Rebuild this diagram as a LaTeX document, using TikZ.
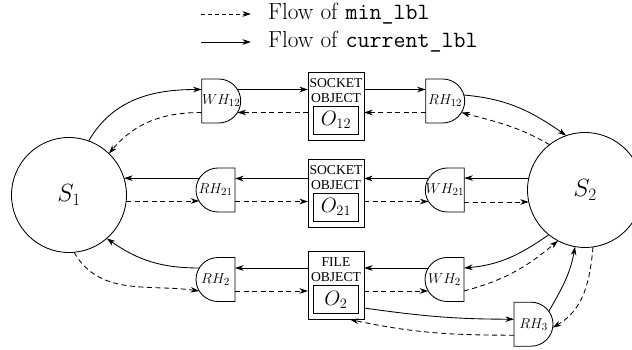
\documentclass[tikz,border=0pt]{standalone}
\usepackage{fontspec}
\newfontfamily\boxfont{Liberation Serif}
\usetikzlibrary{arrows.meta}
\begin{document}
\begin{tikzpicture}[x=1pt,y=1pt,
  every node/.style={inner sep=0pt,outer sep=0pt},
  conn/.style={line width=0.85pt,-{Stealth[length=8.5pt,width=5.5pt,inset=2.5pt]}},
  flowdash/.style={conn,dash pattern=on 5pt off 3.5pt},
  legdash/.style={conn,dash pattern=on 4pt off 3pt},
  site/.style={circle,draw,line width=0.85pt,minimum size=115pt,font=\fontsize{23}{23}\selectfont},
  obox/.style={rectangle,draw,line width=0.9pt,minimum width=56pt,minimum height=68pt},
  ibox/.style={rectangle,draw,line width=0.9pt,minimum width=45pt,minimum height=28pt,font=\fontsize{21}{21}\selectfont},
  blabel/.style={font=\boxfont\fontsize{13.6}{14}\selectfont},
  gate/.style={minimum width=39pt,minimum height=44pt,font=\fontsize{15.2}{15}\selectfont},
  gateline/.style={line width=0.85pt},
  legtext/.style={anchor=base west,font=\fontsize{23.3}{25}\selectfont}]
\useasboundingbox (0,0) rectangle (632,350);

% legend
\coordinate (L1a) at (201,336);
\coordinate (L1b) at (251,336);
\coordinate (L2a) at (201,308);
\coordinate (L2b) at (251,308);
\draw[legdash] (L1a) -- (L1b);
\draw[conn] (L2a) -- (L2b);
\node[legtext] (leg1) at (268,330) {Flow of \texttt{min\_lbl}};
\node[legtext] (leg2) at (268,302.5) {Flow of \texttt{current\_lbl}};

% sites
\node[site] (S1) at (69,155) {$S_1$};
\node[site] (S2) at (585,160) {$S_2$};

% object boxes
\node[obox] (B12) at (336,244) {};
\node[blabel] (B12a) at ([yshift=-11pt]B12.north) {SOCKET};
\node[blabel] (B12b) at ([yshift=-26pt]B12.north) {OBJECT};
\node[ibox] (O12) at ([yshift=20pt]B12.south) {$O_{12}$};

\node[obox] (B21) at (336,157) {};
\node[blabel] (B21a) at ([yshift=-11pt]B21.north) {SOCKET};
\node[blabel] (B21b) at ([yshift=-26pt]B21.north) {OBJECT};
\node[ibox] (O21) at ([yshift=20pt]B21.south) {$O_{21}$};

\node[obox] (B2) at (336,64.5) {};
\node[blabel] (B2a) at ([yshift=-11pt]B2.north) {FILE};
\node[blabel] (B2b) at ([yshift=-26pt]B2.north) {OBJECT};
\node[ibox] (O2) at ([yshift=20pt]B2.south) {$O_{2}$};

% handlers
\node[gate] (WH12) at (221.2,249) {$WH_{12}$};
\node[gate] (RH12) at (445.2,249) {$RH_{12}$};
\node[gate] (RH21) at (215.5,160) {$RH_{21}$};
\node[gate] (WH21) at (444.8,160) {$WH_{21}$};
\node[gate] (RH2)  at (215.5,70.5) {$RH_{2}$};
\node[gate] (WH2)  at (444.5,70.5) {$WH_{2}$};
\node[gate] (RH3)  at (533.5,25.8) {$RH_{3}$};

% handler outlines: flat side and a half-round side
\foreach \g in {WH12,RH12,RH3}
  \draw[gateline] (\g.north west) -- ++(17pt,0) arc[start angle=90,end angle=-90,radius=22pt] -- (\g.south west) -- cycle;
\foreach \g in {RH21,WH21,RH2,WH2}
  \draw[gateline] (\g.north east) -- ++(-17pt,0) arc[start angle=90,end angle=270,radius=22pt] -- (\g.south east) -- cycle;

% top row
\draw[conn] (S1.70) to[out=60,in=180] ([yshift=11.5pt]WH12.west);
\draw[flowdash] ([yshift=-11.5pt]WH12.west) to[out=180,in=50] (S1.46);
\draw[conn] ([xshift=-3.25pt,yshift=11.5pt]WH12.east) -- ([yshift=11.5pt]WH12.east -| B12.west);
\draw[flowdash] ([yshift=-11.5pt]WH12.east -| B12.west) -- ([xshift=-3.25pt,yshift=-11.5pt]WH12.east);
\draw[conn] ([yshift=11.5pt]RH12.west -| B12.east) -- ([yshift=11.5pt]RH12.west);
\draw[flowdash] ([yshift=-11.5pt]RH12.west) -- ([yshift=-11.5pt]RH12.west -| B12.east);
\draw[conn] ([xshift=-1pt,yshift=6pt]RH12.east) to[out=-5,in=145] (S2.109);
\draw[flowdash] (S2.128) to[out=150,in=-15] ([xshift=-3.25pt,yshift=-11.5pt]RH12.east);

% middle row
\draw[conn] (S2.168) -- (S2.168 -| WH21.east);
\draw[conn] ([xshift=3.25pt,yshift=11.5pt]WH21.west) -- ([yshift=11.5pt]WH21.west -| B21.east);
\draw[conn] ([yshift=11.5pt]RH21.east -| B21.west) -- ([yshift=11.5pt]RH21.east);
\draw[conn] ([xshift=3.25pt]S1.17 -| RH21.west) -- (S1.17);
\draw[flowdash] (S1.354) -- ([xshift=3.25pt]S1.354 -| RH21.west);
\draw[flowdash] ([yshift=-11.5pt]RH21.east) -- ([yshift=-11.5pt]RH21.east -| B21.west);
\draw[flowdash] ([yshift=-11.5pt]WH21.west -| B21.east) -- ([xshift=3.25pt,yshift=-11.5pt]WH21.west);
\draw[flowdash] (S2.192 -| WH21.east) -- (S2.192);

% bottom row
\draw[conn] (S2.231) to[out=215,in=5] ([yshift=11.5pt]WH2.east);
\draw[conn] ([xshift=3.25pt,yshift=11.5pt]WH2.west) -- ([yshift=11.5pt]WH2.west -| B2.east);
\draw[conn] ([yshift=11.5pt]RH2.east -| B2.west) -- ([yshift=11.5pt]RH2.east);
\draw[conn] ([xshift=3.25pt,yshift=11.5pt]RH2.west) to[out=180,in=-35] (S1.311);
\draw[flowdash] (S1.275) to[out=-60,in=172] ([xshift=3.25pt,yshift=-11.5pt]RH2.west);
\draw[flowdash] ([yshift=-11.5pt]RH2.east) -- ([yshift=-11.5pt]RH2.east -| B2.west);
\draw[flowdash] ([yshift=-11.5pt]WH2.west -| B2.east) -- ([xshift=3.25pt,yshift=-11.5pt]WH2.west);
\draw[flowdash] ([yshift=-11.5pt]WH2.east) to[out=15,in=220] (S2.242);

% third reader
\draw[conn] ([yshift=-22.5pt]B2.east) to[out=-8,in=180] ([yshift=5pt]RH3.west);
\draw[flowdash] ([yshift=-11pt]RH3.west) to[out=180,in=-12] ([xshift=14pt]B2.south);
\draw[conn] ([xshift=-4.2pt,yshift=12.9pt]RH3.east) to[out=60,in=-100] (S2.260);
\draw[flowdash] (S2.278) to[out=-95,in=30] ([xshift=-0.3pt,yshift=-3.4pt]RH3.east);
\end{tikzpicture}
\end{document}
